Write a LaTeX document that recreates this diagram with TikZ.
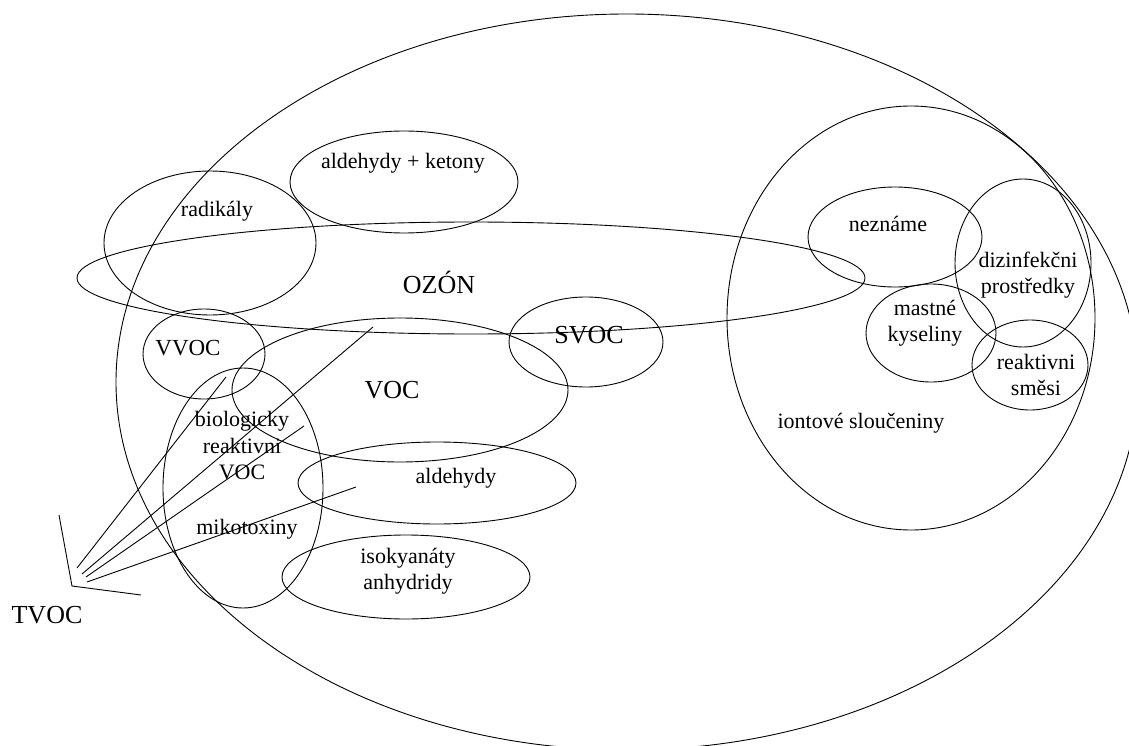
\documentclass[tikz,border=0pt]{standalone}
\usepackage{fontspec}
\setmainfont{Liberation Serif}
\usetikzlibrary{shapes.geometric}
\begin{document}
\begin{tikzpicture}[x=1pt,y=-1pt,
  ell/.style={draw, ellipse, inner sep=0pt, line width=0.9pt},
  lbl/.style={font=\fontsize{22}{26.5}\selectfont, align=center, inner sep=0pt},
  biglbl/.style={font=\fontsize{26}{30}\selectfont, inner sep=0pt},
  ln/.style={line width=0.9pt}]
\useasboundingbox (0,0) rectangle (1129,746);
% ellipses
\node[ell, minimum width=1022pt, minimum height=736pt] (all) at (627,382) {};
\node[ell, minimum width=368pt, minimum height=424pt] (ion) at (911,318) {};
\node[ell, minimum width=174pt, minimum height=100pt] (nez) at (895,237) {};
\node[ell, minimum width=136pt, minimum height=168pt] (diz) at (1023,263) {};
\node[ell, minimum width=130pt, minimum height=98pt] (mas) at (931,333) {};
\node[ell, minimum width=116pt, minimum height=90pt] (rea) at (1030,365) {};
\node[ell, minimum width=788pt, minimum height=112pt] (ozon) at (471,278) {};
\node[ell, minimum width=212pt, minimum height=144pt] (rad) at (210,243) {};
\node[ell, minimum width=228pt, minimum height=102pt] (ak) at (404,182) {};
\node[ell, minimum width=122pt, minimum height=90pt] (vvoc) at (204,354) {};
\node[ell, minimum width=336pt, minimum height=144pt] (voc) at (400,390) {};
\node[ell, minimum width=154pt, minimum height=90pt] (svoc) at (586,342) {};
\node[ell, minimum width=160pt, minimum height=240pt] (bio) at (243,488) {};
\node[ell, minimum width=278pt, minimum height=82pt] (ald) at (437,483) {};
\node[ell, minimum width=248pt, minimum height=84pt] (iso) at (406,577) {};
% labels
\node[lbl] (tak) at (403,163) {aldehydy + ketony};
\node[lbl] (trad) at (217,211) {radikály};
\node[biglbl] (tozon) at (439,282) {OZÓN};
\node[lbl] (tnez) at (888,224) {neznáme};
\node[lbl] (tdiz) at (1028,275) {dizinfekčni\\prostředky};
\node[lbl] (tmas) at (925,323) {mastné\\kyseliny};
\node[biglbl] (tsvoc) at (589,335) {SVOC};
\node[lbl, font=\fontsize{23}{27}\selectfont] (tvvoc) at (188,348) {VVOC};
\node[biglbl] (tvoc) at (392,390) {VOC};
\node[lbl] (trea) at (1036,375) {reaktivni\\směsi};
\node[lbl] (tion) at (861,423) {iontové sloučeniny};
\node[lbl] (tbio) at (242,446) {biologicky\\reaktivni\\VOC};
\node[lbl] (tald) at (456,478) {aldehydy};
\node[lbl] (tmik) at (247,529) {mikotoxiny};
\node[lbl] (tiso) at (408,571) {isokyanáty\\anhydridy};
\node[biglbl] (ttvoc) at (47,615) {TVOC};
% TVOC bracket and fan
\coordinate (bA) at (59,515);
\coordinate (bV) at (72,586);
\coordinate (bB) at (141,595);
\draw[ln] (bA) -- (bV) -- (bB);
\coordinate (s1) at (77,568);  \coordinate (e1) at (226,377);
\coordinate (s2) at (82,574);  \coordinate (e2) at (373,327);
\coordinate (s3) at (86,577);  \coordinate (e3) at (304,426);
\coordinate (s4) at (87,582);  \coordinate (e4) at (356,487);
\draw[ln] (s1) -- (e1);
\draw[ln] (s2) -- (e2);
\draw[ln] (s3) -- (e3);
\draw[ln] (s4) -- (e4);
\end{tikzpicture}
\end{document}
